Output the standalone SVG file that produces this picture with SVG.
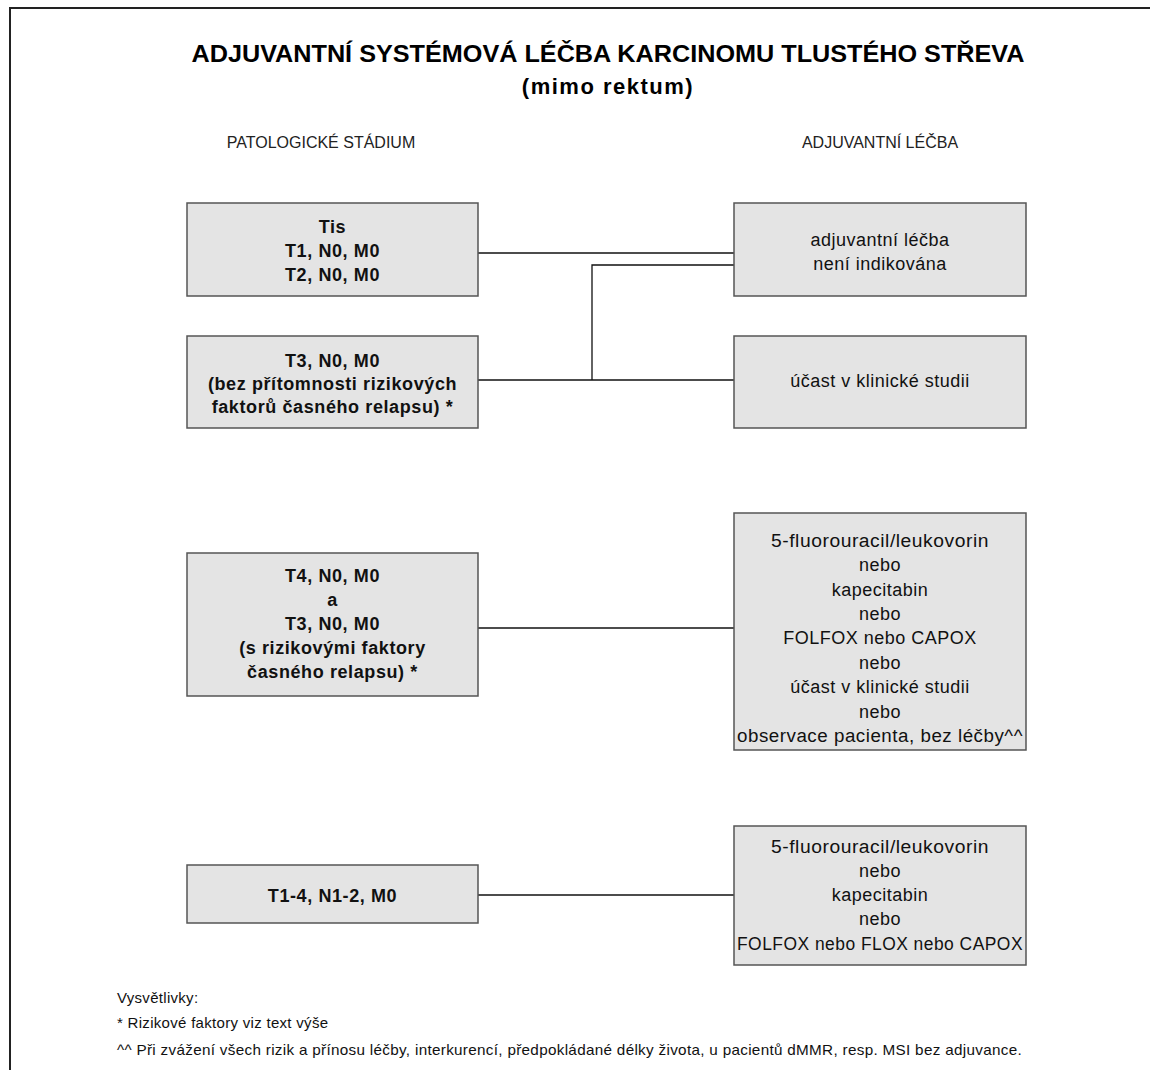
<svg xmlns="http://www.w3.org/2000/svg" width="1150" height="1070" viewBox="0 0 1150 1070">
<style>
.box{fill:#e4e4e4;stroke:#555;stroke-width:1.5}
.conn{stroke:#111;stroke-width:1.3;fill:none}
.b{font-family:"Liberation Sans",Arial,sans-serif;font-weight:bold;font-size:18px;letter-spacing:0.6px;fill:#111;text-anchor:middle}
.n{font-family:"Liberation Sans",Arial,sans-serif;font-size:18px;letter-spacing:0.5px;fill:#111;text-anchor:middle}
.hd{font-family:"Liberation Sans",Arial,sans-serif;font-size:16px;fill:#222;text-anchor:middle}
.ft{font-family:"Liberation Sans",Arial,sans-serif;font-size:15px;letter-spacing:0.3px;fill:#111}
.title{font-family:"Liberation Sans",Arial,sans-serif;font-weight:bold;fill:#000;text-anchor:middle}
</style>
<rect width="1150" height="1070" fill="#fff"/>
<path d="M10,1070 V8 H1150" fill="none" stroke="#222" stroke-width="2"/>
<g id="title">
<text class="title" x="608" y="62" font-size="24" textLength="833" lengthAdjust="spacingAndGlyphs">ADJUVANTNÍ SYSTÉMOVÁ LÉČBA KARCINOMU TLUSTÉHO STŘEVA</text>
<text class="title" x="608" y="94" font-size="22" letter-spacing="1.5">(mimo rektum)</text>
</g>
<g id="headers">
<text class="hd" x="321" y="148">PATOLOGICKÉ STÁDIUM</text>
<text class="hd" x="880" y="148">ADJUVANTNÍ LÉČBA</text>
</g>
<g id="connectors">
<path class="conn" d="M478,253 H734"/>
<path class="conn" d="M478,380 H734"/>
<path class="conn" d="M592,380 V265 H734"/>
<path class="conn" d="M478,628 H734"/>
<path class="conn" d="M478,895 H734"/>
</g>
<g id="n1">
<rect class="box" x="187" y="203" width="291" height="93"/>
<text class="b" x="332.5" y="233">Tis</text>
<text class="b" x="332.5" y="257">T1, N0, M0</text>
<text class="b" x="332.5" y="281">T2, N0, M0</text>
</g>
<g id="n2">
<rect class="box" x="187" y="336" width="291" height="92"/>
<text class="b" x="332.5" y="367">T3, N0, M0</text>
<text class="b" x="332.5" y="390">(bez přítomnosti rizikových</text>
<text class="b" x="332.5" y="413">faktorů časného relapsu) *</text>
</g>
<g id="n3">
<rect class="box" x="187" y="553" width="291" height="143"/>
<text class="b" x="332.5" y="582">T4, N0, M0</text>
<text class="b" x="332.5" y="606">a</text>
<text class="b" x="332.5" y="630">T3, N0, M0</text>
<text class="b" x="332.5" y="654">(s rizikovými faktory</text>
<text class="b" x="332.5" y="678">časného relapsu) *</text>
</g>
<g id="n4">
<rect class="box" x="187" y="865" width="291" height="58"/>
<text class="b" x="332.5" y="902">T1-4, N1-2, M0</text>
</g>
<g id="r1">
<rect class="box" x="734" y="203" width="292" height="93"/>
<text class="n" x="880" y="246">adjuvantní léčba</text>
<text class="n" x="880" y="270">není indikována</text>
</g>
<g id="r2">
<rect class="box" x="734" y="336" width="292" height="92"/>
<text class="n" x="880" y="387">účast v klinické studii</text>
</g>
<g id="r3">
<rect class="box" x="734" y="513" width="292" height="237"/>
<text class="n" x="880" y="547" textLength="218" lengthAdjust="spacingAndGlyphs">5-fluorouracil/leukovorin</text>
<text class="n" x="880" y="571">nebo</text>
<text class="n" x="880" y="596">kapecitabin</text>
<text class="n" x="880" y="620">nebo</text>
<text class="n" x="880" y="644">FOLFOX nebo CAPOX</text>
<text class="n" x="880" y="669">nebo</text>
<text class="n" x="880" y="693">účast v klinické studii</text>
<text class="n" x="880" y="718">nebo</text>
<text class="n" x="880" y="742" textLength="286" lengthAdjust="spacingAndGlyphs">observace pacienta, bez léčby^^</text>
</g>
<g id="r4">
<rect class="box" x="734" y="826" width="292" height="139"/>
<text class="n" x="880" y="853" textLength="218" lengthAdjust="spacingAndGlyphs">5-fluorouracil/leukovorin</text>
<text class="n" x="880" y="877">nebo</text>
<text class="n" x="880" y="901">kapecitabin</text>
<text class="n" x="880" y="925">nebo</text>
<text class="n" x="880" y="950" textLength="286" lengthAdjust="spacingAndGlyphs">FOLFOX nebo FLOX nebo CAPOX</text>
</g>
<g id="footer">
<text class="ft" x="117" y="1003">Vysvětlivky:</text>
<text class="ft" x="117" y="1028">* Rizikové faktory viz text výše</text>
<text class="ft" x="117" y="1055" textLength="905" lengthAdjust="spacingAndGlyphs">^^ Při zvážení všech rizik a přínosu léčby, interkurencí, předpokládané délky života, u pacientů dMMR, resp. MSI bez adjuvance.</text>
</g>
</svg>
